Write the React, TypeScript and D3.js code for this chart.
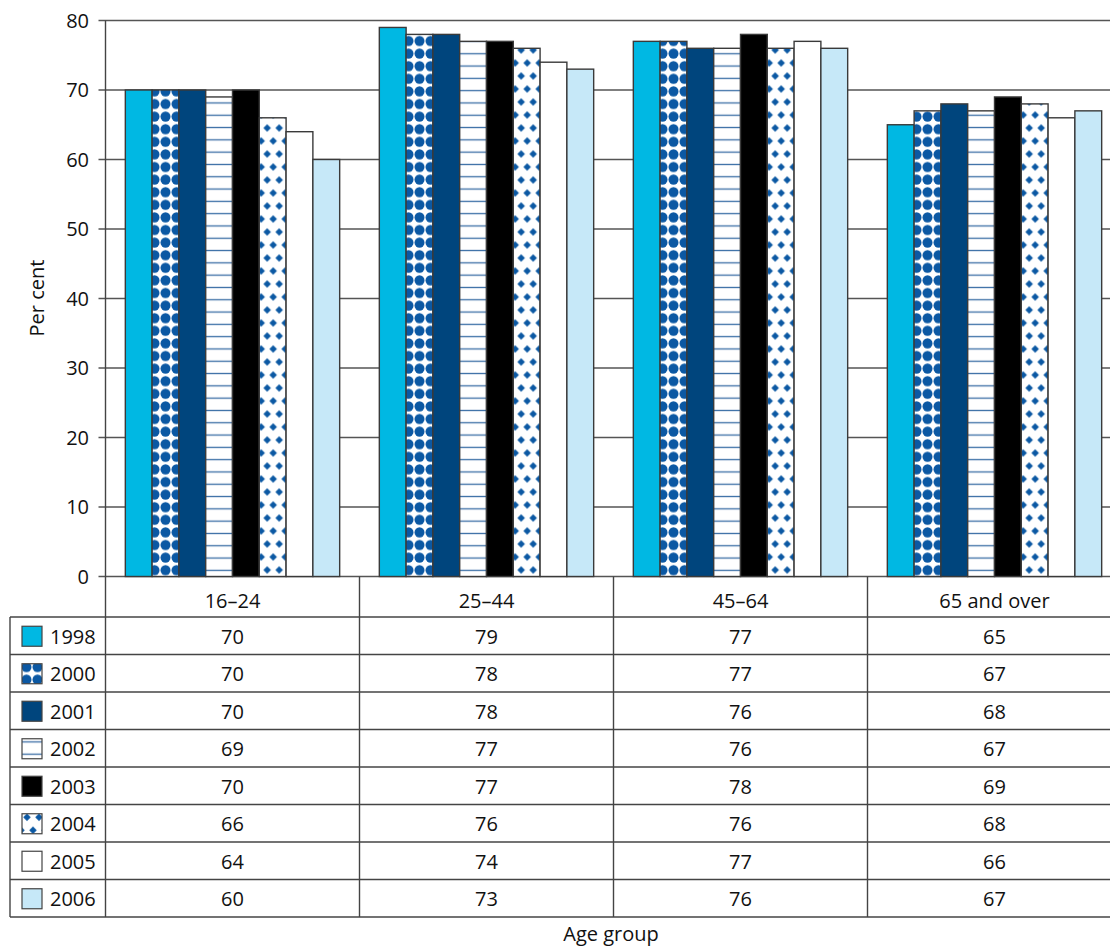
import React from 'react';
import * as d3 from 'd3';

const groups = ['16–24', '25–44', '45–64', '65 and over'];
const years = ['1998', '2000', '2001', '2002', '2003', '2004', '2005', '2006'];
const v1998 = [70, 79, 77, 65];
const v2000 = [70, 78, 77, 67];
const v2001 = [70, 78, 76, 68];
const v2002 = [69, 77, 76, 67];
const v2003 = [70, 77, 78, 69];
const v2004 = [66, 76, 76, 68];
const v2005 = [64, 74, 77, 66];
const v2006 = [60, 73, 76, 67];
const seriesValues = [v1998, v2000, v2001, v2002, v2003, v2004, v2005, v2006];
const yTicks = [0, 10, 20, 30, 40, 50, 60, 70, 80];

type Kind = { type: 'solid'; color: string } | { type: 'dots' } | { type: 'lines' } | { type: 'diamonds' };
const styles: Kind[] = [
  { type: 'solid', color: '#00b8e3' },
  { type: 'dots' },
  { type: 'solid', color: '#00457d' },
  { type: 'lines' },
  { type: 'solid', color: '#000000' },
  { type: 'diamonds' },
  { type: 'solid', color: '#ffffff' },
  { type: 'solid', color: '#c6e8f8' },
];

const W = 1110, H = 949;
const plotLeft = 105.5, plotRight = 1121.5;
const yTop = 20.5, yBottom = 576.5;
const tableTop = 617, rowH = 37.5;
const tableLeft = 10;
const FONT = '"Open Sans", "Noto Sans", sans-serif';
const BLUE = '#0b58a3';
const STROKE = '#3a3a3a';

function Pattern({ id, kind, ox, oy }: { id: string; kind: Kind; ox: number; oy: number }) {
  if (kind.type === 'dots') {
    return (
      <pattern id={id} patternUnits="userSpaceOnUse" width={11} height={12.6} x={ox} y={oy}>
        <rect width={11} height={12.6} fill="#fff" />
        <circle cx={5.5} cy={6.3} r={5} fill={BLUE} />
      </pattern>
    );
  }
  if (kind.type === 'lines') {
    return (
      <pattern id={id} patternUnits="userSpaceOnUse" width={10} height={12.3} x={ox} y={oy}>
        <rect width={10} height={12.3} fill="#fff" />
        <rect x={0} y={5.5} width={10} height={1.3} fill="#3a6ea5" />
      </pattern>
    );
  }
  if (kind.type === 'diamonds') {
    const dia = (cx: number, cy: number) => `M${cx},${cy - 3.8}L${cx + 3.8},${cy}L${cx},${cy + 3.8}L${cx - 3.8},${cy}Z`;
    return (
      <pattern id={id} patternUnits="userSpaceOnUse" width={12} height={26} x={ox} y={oy}>
        <rect width={12} height={26} fill="#fff" />
        <path d={dia(6, 6.5) + dia(0, 19.5) + dia(12, 19.5)} fill={BLUE} />
      </pattern>
    );
  }
  return null;
}

export default function App() {
  const y = d3.scaleLinear().domain([0, 80]).range([yBottom, yTop]);
  const x0 = d3.scaleBand<string>().domain(groups).range([plotLeft, plotRight]).paddingInner(0).paddingOuter(0);
  const bw = x0.bandwidth();
  const x1 = d3.scaleBand<string>().domain(years).range([0, bw]).paddingInner(0).paddingOuter(0.74);
  const barW = x1.bandwidth();

  const defs: React.ReactNode[] = [];
  const fillFor = (si: number, id: string, ox: number, oy: number) => {
    const k = styles[si];
    if (k.type === 'solid') return k.color;
    defs.push(<Pattern key={id} id={id} kind={k} ox={ox} oy={oy} />);
    return `url(#${id})`;
  };

  const bars: React.ReactNode[] = [];
  seriesValues.forEach((vals, si) => {
    vals.forEach((v, gi) => {
      const bx = (x0(groups[gi]) ?? 0) + (x1(years[si]) ?? 0);
      const by = y(v);
      const id = `pat-${si}-${gi}`;
      const fill = fillFor(si, id, bx + barW / 2 - 5.5, yBottom);
      bars.push(
        <rect key={id} x={bx} y={by} width={barW} height={yBottom - by}
          fill={fill} stroke={STROKE} strokeWidth={1.4} />
      );
    });
  });

  const legendRows: React.ReactNode[] = [];
  years.forEach((yr, si) => {
    const top = tableTop + si * rowH;
    const cy = top + rowH / 2;
    const sx = 22, sy = cy - 9.5;
    const id = `leg-${si}`;
    const fill = fillFor(si, id, sx + 10 - 5.5 - 5.5, sy - 3);
    legendRows.push(
      <g key={yr}>
        <rect x={sx} y={sy} width={20} height={20} fill={fill} stroke="#444" strokeWidth={1.2} />
        <text x={50} y={cy + 8} fontSize={20} fontFamily={FONT} fill="#111">{yr}</text>
        {groups.map((g, gi) => (
          <text key={g} x={(x0(g) ?? 0) + bw / 2} y={cy + 8} textAnchor="middle" fontSize={20} fontFamily={FONT} fill="#111">
            {seriesValues[si][gi]}
          </text>
        ))}
      </g>
    );
  });

  const tableBottom = tableTop + rowH * years.length;

  return (
    <svg width={W} height={H} style={{ position: 'absolute', left: 0, top: 0, background: '#fff' }}>
      <defs>{defs}</defs>
      <rect width={W} height={H} fill="#fff" />
      {yTicks.map(t => (
        <g key={t}>
          <line x1={plotLeft - 7} x2={plotRight} y1={y(t)} y2={y(t)} stroke="#555" strokeWidth={1.3} />
          <text x={89} y={y(t) + 7} textAnchor="end" fontSize={20} fontFamily={FONT} fill="#111">{t}</text>
        </g>
      ))}
      {bars}
      <line x1={plotLeft} x2={plotLeft} y1={yTop} y2={tableBottom} stroke="#444" strokeWidth={1.4} />
      {groups.map((g, gi) => gi > 0 && (
        <line key={g} x1={x0(g)} x2={x0(g)} y1={yBottom} y2={tableBottom} stroke="#444" strokeWidth={1.4} />
      ))}
      {groups.map(g => (
        <text key={g} x={(x0(g) ?? 0) + bw / 2} y={608} textAnchor="middle" fontSize={20} fontFamily={FONT} fill="#111">{g}</text>
      ))}
      {d3.range(years.length + 1).map(i => (
        <line key={i} x1={tableLeft} x2={W} y1={tableTop + i * rowH} y2={tableTop + i * rowH} stroke="#444" strokeWidth={1.4} />
      ))}
      <line x1={tableLeft} x2={tableLeft} y1={tableTop} y2={tableBottom} stroke="#444" strokeWidth={1.4} />
      {legendRows}
      <text transform={`translate(44,${298}) rotate(-90)`} textAnchor="middle" fontSize={20} fontFamily={FONT} fill="#111">Per cent</text>
      <text x={611} y={941} textAnchor="middle" fontSize={20} fontFamily={FONT} fill="#111">Age group</text>
    </svg>
  );
}
